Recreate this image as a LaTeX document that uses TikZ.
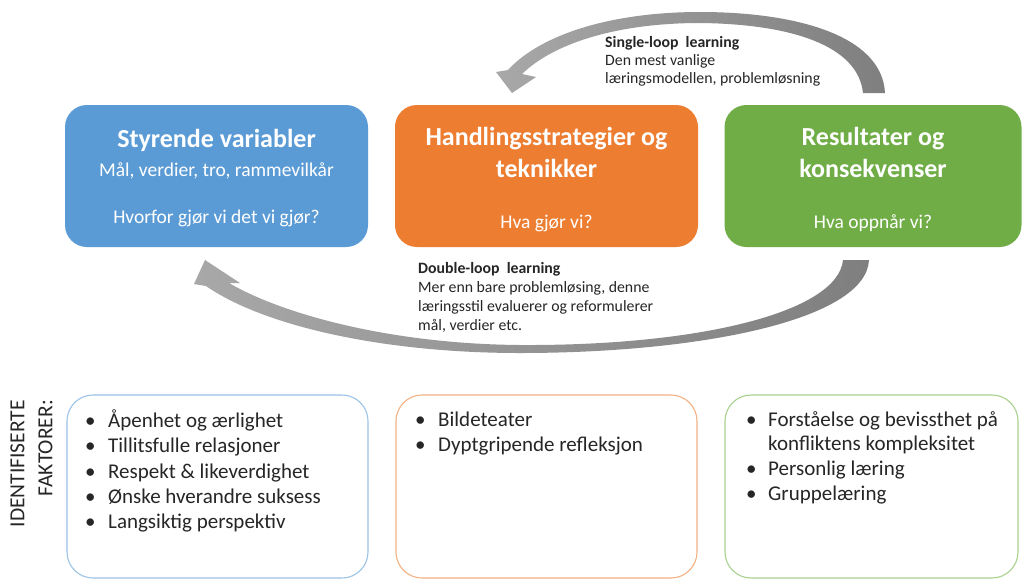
\documentclass[tikz,border=0pt]{standalone}
\usepackage{fontspec}
\setmainfont{Carlito}
\definecolor{bfill}{HTML}{5B9BD5}
\definecolor{ofill}{HTML}{ED7D31}
\definecolor{gfill}{HTML}{70AD47}
\definecolor{bline}{HTML}{9DC3E6}
\definecolor{oline}{HTML}{F4B183}
\definecolor{gline}{HTML}{A9D18E}
\definecolor{arrowlight}{HTML}{A8A8A8}
\definecolor{arrowdark}{HTML}{7F7F7F}
\definecolor{txt}{HTML}{262626}
\begin{document}
\begin{tikzpicture}[x=1pt,y=-1pt,
  topbox/.style={rounded corners=22pt, draw=none, minimum height=142pt, inner sep=0pt},
  botbox/.style={rounded corners=26pt, line width=1.1pt, fill=white, minimum height=183pt, inner sep=0pt},
  ttl/.style={font=\bfseries\fontsize{26}{30}\selectfont, text=white, inner sep=0pt, anchor=base},
  sub/.style={font=\fontsize{19.5}{23}\selectfont, text=white, inner sep=0pt, anchor=base},
  lbl/.style={font=\fontsize{15.8}{18}\selectfont, text=txt, inner sep=0pt, anchor=base west},
  bul/.style={font=\fontsize{21}{25}\selectfont, text=txt, inner sep=0pt, anchor=base west},
  vtxt/.style={font=\fontsize{21.5}{25}\selectfont, text=txt, inner sep=0pt, rotate=90, anchor=east}
]
\useasboundingbox (0,0) rectangle (1022,579);
\fill[white] (0,0) rectangle (1022,579);

% top boxes
\node[topbox, fill=bfill, minimum width=303pt] (gov) at (216.5,176) {};
\node[topbox, fill=ofill, minimum width=303pt] (act) at (546.5,176) {};
\node[topbox, fill=gfill, minimum width=297pt] (res) at (873,176) {};

\node[ttl] (govt) at (216.5,147) {Styrende variabler};
\node[sub] (govs) at (216.5,176) {Mål, verdier, tro, rammevilkår};
\node[sub] (govq) at (216.5,223) {Hvorfor gjør vi det vi gjør?};

\node[ttl] (actt1) at (546.5,145) {Handlingsstrategier og};
\node[ttl] (actt2) at (546.5,177) {teknikker};
\node[sub] (actq) at (546.5,228) {Hva gjør vi?};

\node[ttl] (rest1) at (873,145) {Resultater og};
\node[ttl] (rest2) at (873,177) {konsekvenser};
\node[sub] (resq) at (873,228) {Hva oppnår vi?};

% single-loop arrow
\shade[left color=arrowlight, right color=arrowdark]
  (885,93) .. controls (882,35) and (795,12) .. (700,12)
  .. controls (610,12) and (540,35) .. (508,70)
  -- (496,72) -- (512,93) -- (536,77) -- (522,74)
  .. controls (555,42) and (620,23) .. (700,23)
  .. controls (790,24) and (858,45) .. (863,93) -- cycle;

% double-loop arrow
\shade[left color=arrowlight, right color=arrowdark]
  (869,260) .. controls (866,320) and (700,353) .. (520,353)
  .. controls (380,353) and (262,325) .. (206,286)
  -- (194,284) -- (205,260) -- (240,283) -- (229,283)
  .. controls (282,314) and (390,344) .. (520,345)
  .. controls (700,346) and (838,312) .. (843,260) -- cycle;

\node[lbl] (sl1) at (605,47) {\textbf{Single-loop\ \ learning}};
\node[lbl] (sl2) at (605,65) {Den mest vanlige};
\node[lbl] (sl3) at (605,83) {læringsmodellen, problemløsning};

\node[lbl] (dl1) at (418,273) {\textbf{Double-loop\ \ learning}};
\node[lbl] (dl2) at (418,292) {Mer enn bare problemløsing, denne};
\node[lbl] (dl3) at (418,311) {læringsstil evaluerer og reformulerer};
\node[lbl] (dl4) at (418,330) {mål, verdier etc.};

% bottom boxes
\node[botbox, draw=bline, minimum width=301pt] (fb) at (217.5,486.5) {};
\node[botbox, draw=oline, minimum width=301pt] (fo) at (546.5,486.5) {};
\node[botbox, draw=gline, minimum width=293pt] (fg) at (871.5,486.5) {};

\node[vtxt] (v1) at (17.5,400) {IDENTIFISERTE};
\node[vtxt] (v2) at (45.5,400) {FAKTORER:};

% bullets blue
\foreach \y/\t [count=\i] in {427/Åpenhet og ærlighet, 452.5/Tillitsfulle relasjoner, 478/Respekt \& likeverdighet, 503/Ønske hverandre suksess, 528/Langsiktig perspektiv}{
  \node[bul] (bb\i) at (85,\y) {\textbullet};
  \node[bul] (bt\i) at (108,\y) {\t};
}
% bullets orange
\foreach \y/\t [count=\i] in {426/Bildeteater, 451.5/Dyptgripende refleksjon}{
  \node[bul] (ob\i) at (415,\y) {\textbullet};
  \node[bul] (ot\i) at (438,\y) {\t};
}
% bullets green
\node[bul] (gb1) at (746,426) {\textbullet};
\node[bul] (gt1) at (768,426) {Forståelse og bevissthet på};
\node[bul] (gt1b) at (768,450.5) {konfliktens kompleksitet};
\node[bul] (gb2) at (746,475) {\textbullet};
\node[bul] (gt2) at (768,475) {Personlig læring};
\node[bul] (gb3) at (746,500) {\textbullet};
\node[bul] (gt3) at (768,500) {Gruppelæring};
\end{tikzpicture}
\end{document}
